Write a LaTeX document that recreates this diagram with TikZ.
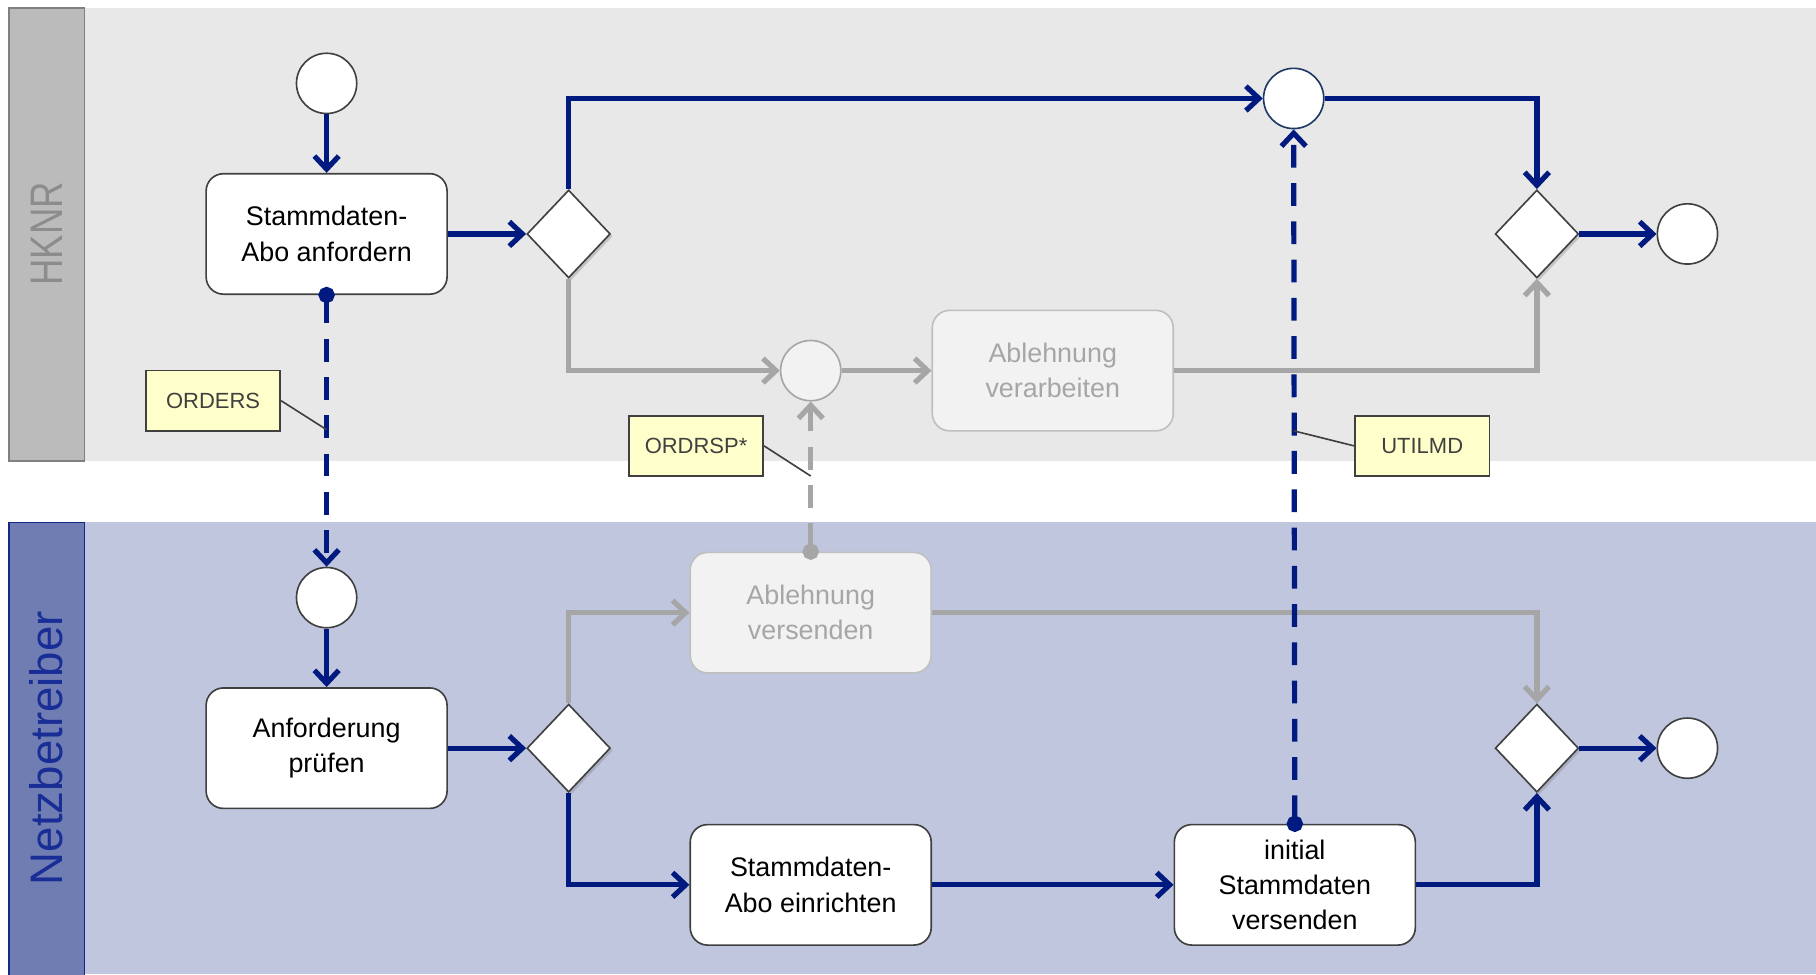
\documentclass[tikz,border=0pt]{standalone}
\usepackage{fontspec}
\setmainfont{Liberation Sans}
\usepackage{tikz}
\usetikzlibrary{arrows.meta, positioning, shapes.geometric, shadows}
\definecolor{myblue}{RGB}{0, 26, 128}
\definecolor{mygray}{RGB}{166, 166, 166}
\definecolor{mylight}{RGB}{232, 232, 232}
\definecolor{myfaint}{RGB}{242, 242, 242}
\definecolor{myedge}{RGB}{191, 191, 191}
\definecolor{mydark}{RGB}{64, 64, 64}
\definecolor{mynote}{RGB}{255, 255, 204}
\definecolor{myhead}{RGB}{187, 187, 187}
\definecolor{myheadtext}{RGB}{140, 140, 140}
\definecolor{mylane}{RGB}{192, 198, 222}
\definecolor{mylanehead}{RGB}{112, 125, 178}
\definecolor{mylaneline}{RGB}{20, 40, 140}
\definecolor{mylanetext}{RGB}{25, 45, 150}
\definecolor{mymsgcircle}{RGB}{31, 56, 100}

\begin{document}
\begin{tikzpicture}[x=0.025cm, y=-0.025cm,
    task/.style={rectangle, rounded corners=0.375cm, draw=mydark, line width=1pt, fill=white,
        minimum width=5.2cm, minimum height=2.6cm, align=center, font=\fontsize{16.5}{21.7}\selectfont},
    faint/.style={task, draw=myedge, fill=myfaint, text=mygray},
    event/.style={circle, draw=mydark, line width=1pt, fill=white, minimum size=1.3cm, inner sep=0pt},
    gate/.style={diamond, draw=mydark, line width=1pt, fill=white, minimum width=1.8cm, minimum height=1.9cm,
        inner sep=0pt, drop shadow={opacity=0.35, shadow xshift=1.5pt, shadow yshift=-1.5pt}},
    note/.style={rectangle, draw=mydark, line width=1pt, fill=mynote, text=mydark,
        minimum width=2.9cm, minimum height=1.3cm, font=\fontsize{13.5}{16}\selectfont},
    flow/.style={myblue, line width=3.2pt, -{Straight Barb[length=8pt, width=15pt]}},
    gflow/.style={flow, mygray},
    msg/.style={flow, dash pattern=on 14pt off 9.5pt, {Circle[length=10pt]}-{Straight Barb[length=8pt, width=15pt]}, shorten <=-5pt},
    gmsg/.style={msg, mygray},
    tag/.style={mydark, line width=1pt}
]
    \useasboundingbox (0,0) rectangle (1568,841);

    % Bahnen
    \fill[mylight] (73,7) rectangle (1568,398);
    \fill[mylane] (73,451) rectangle (1568,841);
    \draw[fill=myhead, draw=gray, line width=1pt] (8,7) rectangle (73,398);
    \draw[fill=mylanehead, draw=mylaneline, line width=1pt] (8,451) rectangle (73,850);
    \node[rotate=90, text=myheadtext, font=\fontsize{28}{30}\selectfont] (hknr) at (40,202) {\scalebox{0.8}[1]{HKNR}};
    \node[rotate=90, text=mylanetext, font=\fontsize{28}{30}\selectfont] (nb) at (40,646) {Netzbetreiber};

    % HKNR
    \node[event] (start1) at (282,72) {};
    \node[task] (anfordern) at (282,202) {Stammdaten-\\Abo anfordern};
    \node[gate] (gate1) at (491,202) {};
    \node[event, draw=mymsgcircle] (empfang) at (1117,85) {};
    \node[gate] (gate2) at (1327,202) {};
    \node[event] (end1) at (1457,202) {};
    \node[event, draw=mygray, fill=myfaint] (ablempf) at (700,320) {};
    \node[faint] (verarbeiten) at (909,320) {Ablehnung\\verarbeiten};

    % Netzbetreiber
    \node[event] (start2) at (282,516) {};
    \node[task] (pruefen) at (282,646) {Anforderung\\prüfen};
    \node[gate] (gate3) at (491,646) {};
    \node[faint] (versenden) at (700,529) {Ablehnung\\versenden};
    \node[task] (einrichten) at (700,764) {Stammdaten-\\Abo einrichten};
    \node[task] (initial) at (1118,764) {initial\\Stammdaten\\versenden};
    \node[gate] (gate4) at (1327,646) {};
    \node[event] (end2) at (1457,646) {};

    % Ablehnung (grau)
    \draw[gflow] (gate1.south) |- (ablempf.west);
    \draw[gflow] (ablempf) -- (verarbeiten);
    \draw[gflow] (verarbeiten.east) -| (gate2.south);
    \draw[gflow] (gate3.north) |- (versenden.west);
    \draw[gflow] (versenden.east) -| (gate4.north);

    % Ablauf
    \draw[flow] (start1) -- (anfordern);
    \draw[flow] (anfordern) -- (gate1);
    \draw[flow] (gate1.north) |- (empfang.west);
    \draw[flow] (empfang.east) -| (gate2.north);
    \draw[flow] (gate2) -- (end1);
    \draw[flow] (start2) -- (pruefen);
    \draw[flow] (pruefen) -- (gate3);
    \draw[flow] (gate3.south) |- (einrichten.west);
    \draw[flow] (einrichten) -- (initial);
    \draw[flow] (initial.east) -| (gate4.south);
    \draw[flow] (gate4) -- (end2);

    % Nachrichten
    \draw[msg] (anfordern.south) -- (start2.north);
    \draw[gmsg] (versenden.north) -- (ablempf.south);
    \draw[msg] (initial.north) -- (empfang.south);

    \node[note] (orders) at (184,346) {ORDERS};
    \node[note] (ordrsp) at (601,385) {ORDRSP*};
    \node[note] (utilmd) at (1228,385) {UTILMD};
    \coordinate (ordersat) at (282,371);
    \coordinate (ordrspat) at (700,411);
    \coordinate (utilmdat) at (1117,372);
    \draw[tag] (orders.east) -- (ordersat);
    \draw[tag] (ordrsp.east) -- (ordrspat);
    \draw[tag] (utilmd.west) -- (utilmdat);
\end{tikzpicture}
\end{document}
